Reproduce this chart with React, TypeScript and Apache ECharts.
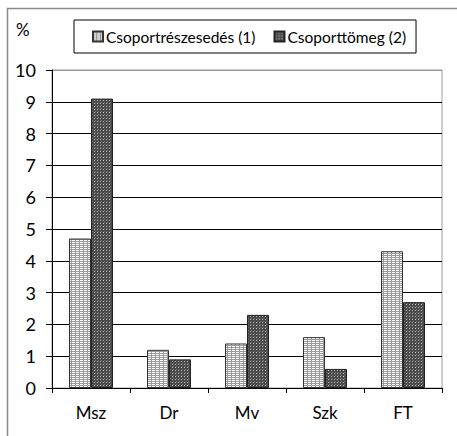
import React, { useEffect, useRef } from "react";
import * as echarts from "echarts";

const categories = ["Msz", "Dr", "Mv", "Szk", "FT"];
const seriesNames = ["Csoportrészesedés (1)", "Csoporttömeg (2)"];
const share = [4.7, 1.2, 1.4, 1.6, 4.3];
const mass = [9.1, 0.9, 2.3, 0.6, 2.7];
const yTicks = [0, 1, 2, 3, 4, 5, 6, 7, 8, 9, 10];

function makeLight(): HTMLCanvasElement {
  const c = document.createElement("canvas");
  c.width = 4;
  c.height = 2;
  const g = c.getContext("2d")!;
  g.fillStyle = "#ffffff";
  g.fillRect(0, 0, 4, 2);
  g.fillStyle = "#9a9a9a";
  g.fillRect(0, 1, 4, 1);
  g.fillRect(3, 0, 1, 1);
  return c;
}

function makeDark(): HTMLCanvasElement {
  const c = document.createElement("canvas");
  c.width = 3;
  c.height = 3;
  const g = c.getContext("2d")!;
  g.fillStyle = "#4a4a4a";
  g.fillRect(0, 0, 3, 3);
  g.fillStyle = "#b8b8b8";
  g.fillRect(1, 1, 1, 1);
  g.fillStyle = "#707070";
  g.fillRect(2, 0, 1, 1);
  return c;
}

export default function App() {
  const ref = useRef<HTMLDivElement>(null);
  useEffect(() => {
    if (!ref.current) return;
    const chart = echarts.init(ref.current, undefined, { renderer: "svg" });
    const light = { image: makeLight(), repeat: "repeat" } as any;
    const dark = { image: makeDark(), repeat: "repeat" } as any;
    const font = "Lato";
    const splitColors = yTicks.map((t) => (t === 10 ? "#9a9a9a" : "#000000"));
    chart.setOption({
      animation: false,
      backgroundColor: "#ffffff",
      textStyle: { fontFamily: font, color: "#000" },
      graphic: [
        {
          type: "rect",
          shape: { x: 7.5, y: 8.5, width: 470, height: 450 },
          style: { fill: "none", stroke: "#8a8a8a", lineWidth: 1.5 },
          silent: true,
        },
        {
          type: "text",
          x: 16,
          y: 21,
          style: { text: "%", fontSize: 17, fontFamily: font, fill: "#000" },
        },
      ],
      legend: {
        data: seriesNames,
        left: 74,
        top: 20,
        padding: [6, 10, 6, 18],
        borderColor: "#000",
        borderWidth: 1,
        itemWidth: 10,
        itemHeight: 10,
        itemGap: 18,
        icon: "rect",
        textStyle: {
          fontSize: 15.5,
          lineHeight: 20,
          fontFamily: font,
          color: "#000",
          padding: [1, 0, 0, -2],
        },
      },
      grid: {
        left: 52,
        right: 15,
        top: 70,
        bottom: 48,
        show: true,
        borderColor: "#9a9a9a",
        borderWidth: 1,
        backgroundColor: "transparent",
      },
      xAxis: {
        type: "category",
        data: categories,
        boundaryGap: true,
        axisLine: { lineStyle: { color: "#000", width: 1 } },
        axisTick: { show: true, length: 5, lineStyle: { color: "#000" } },
        axisLabel: { fontSize: 17, color: "#000", margin: 16, fontFamily: font },
      },
      yAxis: {
        type: "value",
        min: 0,
        max: 10,
        interval: 1,
        axisLine: { show: true, lineStyle: { color: "#000", width: 1 } },
        axisTick: { show: true, length: 6, lineStyle: { color: "#000" } },
        axisLabel: { fontSize: 18, color: "#000", margin: 16, fontFamily: font },
        splitLine: { show: true, lineStyle: { color: splitColors, width: 1 } },
      },
      series: [
        {
          name: seriesNames[0],
          type: "bar",
          data: share,
          barWidth: 22,
          barGap: "0%",
          itemStyle: { color: light, borderColor: "#333", borderWidth: 1 },
        },
        {
          name: seriesNames[1],
          type: "bar",
          data: mass,
          barWidth: 22,
          barGap: "0%",
          itemStyle: { color: dark, borderColor: "#222", borderWidth: 1 },
        },
      ],
    });
    return () => chart.dispose();
  }, []);
  return (
    <div
      ref={ref}
      style={{ position: "fixed", left: 0, top: 0, width: 457, height: 436 }}
    />
  );
}
